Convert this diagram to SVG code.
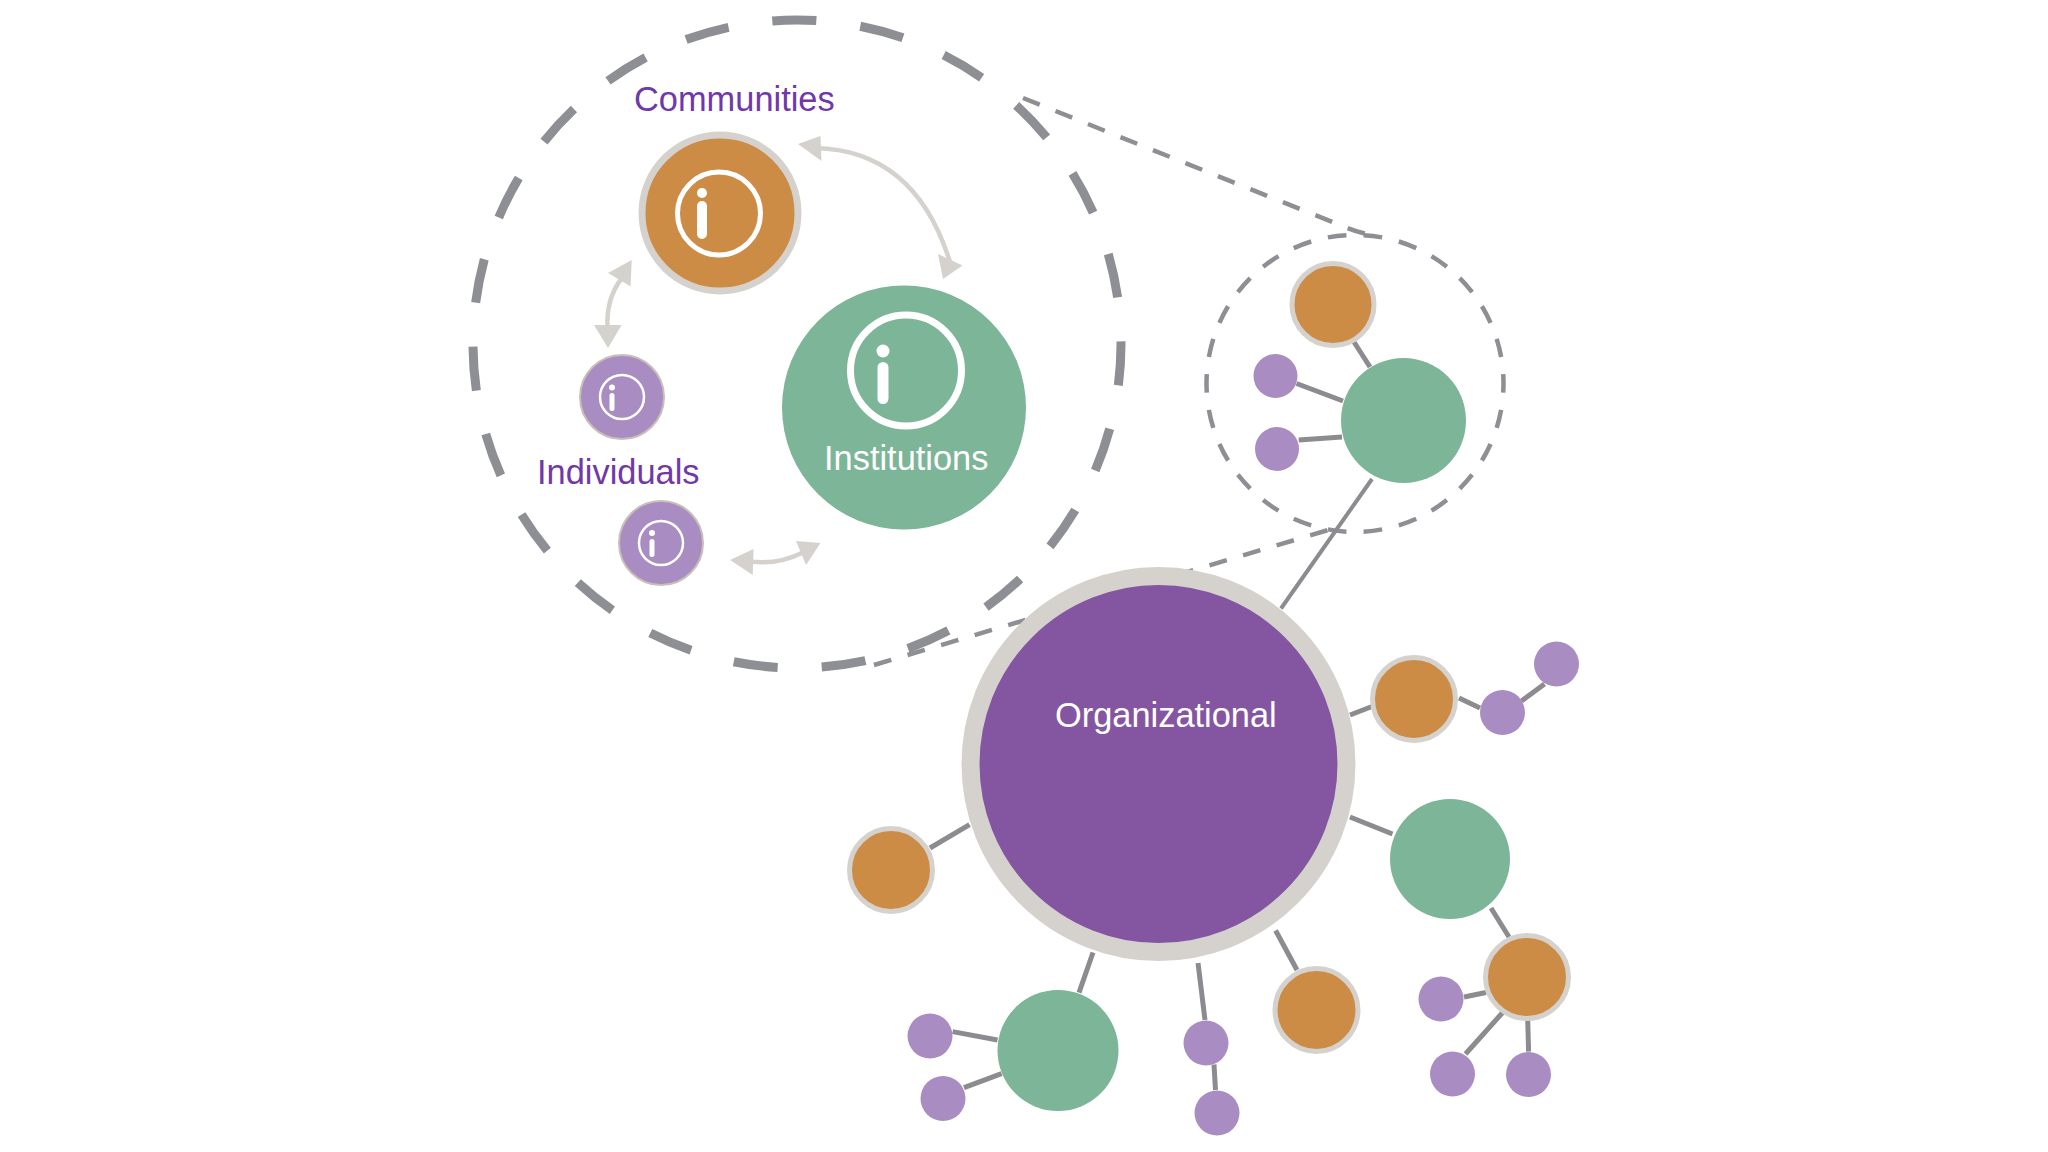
<svg xmlns="http://www.w3.org/2000/svg" width="2048" height="1152" viewBox="0 0 2048 1152">
<style>
.or{fill:#cc8c45;stroke:#d5d2cd}
.gr{fill:#7db598}
.pu{fill:#a98cc2}
.pb{fill:#a98cc2;stroke:#c9bfb8;stroke-width:2}
.ring{fill:none;stroke:#fff}
.st{stroke:#fff;stroke-linecap:round}
.dot{fill:#fff}
.t{font-family:"Liberation Sans",Arial,sans-serif;font-size:34.4px}
.tp{fill:#7038a8}
.tw{fill:#fff}
.conn{fill:none;stroke:#8c8c90;stroke-width:5}
.guide{fill:none;stroke:#8e8f94;stroke-width:4.5;stroke-dasharray:18 17}
.arr{fill:none;stroke:#d5d2cd;stroke-width:4.5}
.head{fill:#d5d2cd}
</style>
<g id="zoom-outline">
<circle cx="797" cy="344" r="324" pathLength="2300" fill="none" stroke="#8e8f94" stroke-width="9" stroke-dasharray="50 50" stroke-dashoffset="3"/>
<circle cx="1355" cy="383.400" r="148.500" pathLength="2600" fill="none" stroke="#8e8f94" stroke-width="4.500" stroke-dasharray="52 48" stroke-dashoffset="26"/>
</g>
<g id="connectors">
<path class="guide" d="M1023,98 L1345,227 Q1358,233 1378,236"/>
<path class="guide" d="M874,665 L1335,528"/>
<path class="conn" d="M1354,342L1370,367"/>
<path class="conn" d="M1296.5,383.5L1343,401"/>
<path class="conn" d="M1298.7,440L1342,437"/>
<path class="conn" d="M1372,479L1281,608.5" style="stroke-width:4"/>
<path class="conn" d="M1350,715L1372,706.5"/>
<path class="conn" d="M1459,698L1480,708"/>
<path class="conn" d="M1521.5,701L1544.5,684"/>
<path class="conn" d="M1350,817L1392.5,834"/>
<path class="conn" d="M1491,908L1509,937"/>
<path class="conn" d="M1464,997L1486,992.5"/>
<path class="conn" d="M1504,1011L1465.5,1054"/>
<path class="conn" d="M1527.6,1016L1528.6,1051.6"/>
<path class="conn" d="M1275.6,930.5L1297,970"/>
<path class="conn" d="M1198,963L1205,1020"/>
<path class="conn" d="M1214,1064.5L1215.5,1090"/>
<path class="conn" d="M1093,952.5L1079,992.6"/>
<path class="conn" d="M952.6,1031.6L997.5,1040"/>
<path class="conn" d="M964,1087.6L1001.6,1073.7"/>
<path class="conn" d="M969.5,824.6L930,848"/>
<path class="arr" d="M815,148Q915,150 950,262"/>
<path class="head" d="M798,144L820.500,136L821.500,161Z"/>
<path class="head" d="M943,279L938,254L962.500,265.600Z"/>
<path class="arr" d="M622,278Q606,298 607.500,328"/>
<path class="head" d="M631.700,260L608,273L630.600,286.600Z"/>
<path class="head" d="M608,348L594,325L621.600,325Z"/>
<path class="arr" d="M748,561Q776,566 804,552"/>
<path class="head" d="M730,560L753.600,549L752.700,575Z"/>
<path class="head" d="M820.500,543L796,541L806,565Z"/>
</g>
<g id="communities">
<circle class="or" cx="720" cy="213" r="78" stroke-width="7"/>
<circle class="ring" cx="719" cy="213.500" r="41.500" stroke-width="5"/>
<circle class="dot" cx="702" cy="193" r="5"/>
<path class="st" d="M702,206V234" stroke-width="10"/>
<text class="t tp" x="634" y="110.700">Communities</text>
</g>
<g id="institutions">
<circle class="gr" cx="904" cy="407.500" r="122"/>
<circle class="ring" cx="906" cy="370.500" r="55.500" stroke-width="7"/>
<circle class="dot" cx="883" cy="351" r="6.500"/>
<path class="st" d="M883,367.500V398.500" stroke-width="11"/>
<text class="t tw" x="824" y="470">Institutions</text>
</g>
<g id="individual-1">
<circle class="pb" cx="622" cy="397" r="42"/>
<circle class="ring" cx="622" cy="397" r="22" stroke-width="2.500"/>
<circle class="dot" cx="612" cy="387.500" r="3"/>
<path class="st" d="M612,395.500V408.500" stroke-width="5"/>
</g>
<g id="individual-2">
<circle class="pb" cx="661" cy="543" r="42"/>
<circle class="ring" cx="661" cy="543" r="22" stroke-width="2.500"/>
<circle class="dot" cx="652" cy="533" r="3"/>
<path class="st" d="M652,541.500V554.500" stroke-width="5"/>
<text class="t tp" x="537" y="483.500">Individuals</text>
</g>
<g id="zoom-orange"><circle class="or" cx="1333" cy="304.500" r="41" stroke-width="5"/></g>
<g id="zoom-green"><circle class="gr" cx="1403.500" cy="420.500" r="62.500"/></g>
<g id="zoom-purple-1"><circle class="pu" cx="1275.500" cy="376" r="22"/></g>
<g id="zoom-purple-2"><circle class="pu" cx="1277" cy="449" r="22"/></g>
<g id="organizational">
<circle cx="1158.500" cy="764" r="188" fill="#8456a2" stroke="#d5d2cd" stroke-width="18"/>
<text class="t tw" x="1055" y="727">Organizational</text>
</g>
<g id="orange-a"><circle class="or" cx="1414" cy="699" r="41.500" stroke-width="5"/></g>
<g id="purple-a1"><circle class="pu" cx="1502.500" cy="712.500" r="22.500"/></g>
<g id="purple-a2"><circle class="pu" cx="1556.500" cy="664" r="22.500"/></g>
<g id="green-b"><circle class="gr" cx="1450" cy="859" r="60"/></g>
<g id="orange-b"><circle class="or" cx="1527" cy="977" r="41.500" stroke-width="5"/></g>
<g id="purple-b1"><circle class="pu" cx="1441" cy="999" r="22.500"/></g>
<g id="purple-b2"><circle class="pu" cx="1452.500" cy="1074" r="22.500"/></g>
<g id="purple-b3"><circle class="pu" cx="1528.500" cy="1074.500" r="22.500"/></g>
<g id="orange-c"><circle class="or" cx="1316.500" cy="1010" r="41.500" stroke-width="5"/></g>
<g id="purple-d1"><circle class="pu" cx="1206" cy="1043" r="22.500"/></g>
<g id="purple-d2"><circle class="pu" cx="1217" cy="1113" r="22.500"/></g>
<g id="green-e"><circle class="gr" cx="1058" cy="1050.500" r="60.500"/></g>
<g id="purple-e1"><circle class="pu" cx="930" cy="1036" r="22.500"/></g>
<g id="purple-e2"><circle class="pu" cx="943" cy="1098.500" r="22.500"/></g>
<g id="orange-f"><circle class="or" cx="891" cy="870" r="41.500" stroke-width="5"/></g>
</svg>
